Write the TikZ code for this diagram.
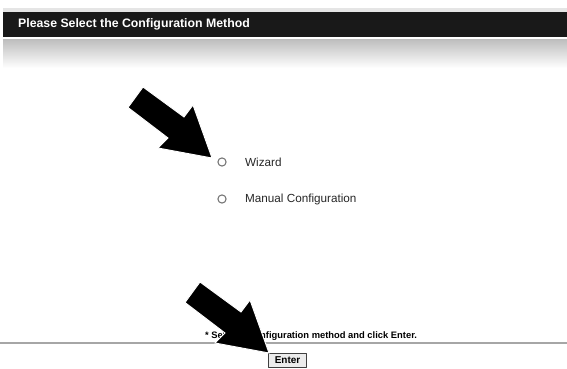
\documentclass[tikz,border=0pt]{standalone}
\usepackage{fontspec}
\setmainfont{Liberation Sans}
\tikzset{
  radio/.style={circle,draw=black!55,fill=white,line width=.9pt,minimum size=7pt,inner sep=0pt},
  bigarrow/.style={fill=black,draw=white,line width=.8pt,line join=miter},
}
\newcommand\pointer[1]{\filldraw[bigarrow,shift={#1}] (143,87)--(184,117)--(193,105)--(212,158)--(158,148)--(168,138)--(128,107.5)--cycle;}
\begin{document}
\begin{tikzpicture}[x=0.03cm,y=-0.03cm,line join=round,line cap=round,font=\fontsize{10}{12}\selectfont]
	\useasboundingbox (0,0) rectangle (567,369);
	\fill[gray!20] (3,8) rectangle (567,12);
	\fill[black!90] (3,12) rectangle (567,37);
	\shade[top color=gray!50,bottom color=white] (3,40) rectangle (567,68);
	\node[anchor=west,text=white,font=\bfseries\fontsize{10.5}{13}\selectfont] (title) at (14,24.5) {Please Select the Configuration Method};
	\foreach \y/\t/\n in {162/Wizard/wizard,199/Manual Configuration/manual}{
		\node[radio] (\n btn) at (222,\y) {};
		\node[anchor=west,text=black!85] (\n) at (241,\y) {\t};
	}
	\node[font=\bfseries\fontsize{8}{10}\selectfont,text=black] (note) at (311,336) {* Select a configuration method and click Enter.};
	\draw[gray!70,line width=1.3pt] (0,343)--(567,343);
	\node[draw=black!75,line width=.9pt,fill=gray!15,minimum width=1.12cm,minimum height=12.5pt,inner sep=1pt,font=\bfseries\fontsize{8.5}{10}\selectfont] (enter) at (287.5,360.5) {Enter};
	\pointer{(0,0)}
	\pointer{(57,195)}
\end{tikzpicture}
\end{document}
